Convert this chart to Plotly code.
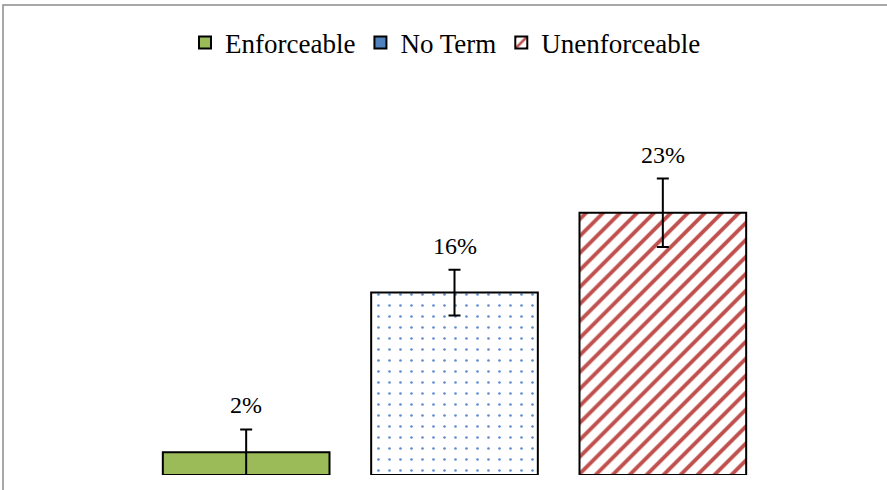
import plotly.graph_objects as go

categories = ["Enforceable", "No Term", "Unenforceable"]
values = [2, 16, 23]
errors = [2, 2, 3]
labels = ["2%", "16%", "23%"]

colors = ["#9BBB59", "#4F81BD", "#C0504D"]

W, H = 887, 490
ML, MR, MT, MB = 142, 120, 80, 15
PW, PH = W - ML - MR, H - MT - MB
YMAX = PH / 11.4

def px_to_paper_x(px):
    return (px - ML) / PW

def px_to_paper_y(py):
    return (H - MB - py) / PH

FONT = "Liberation Serif, Times New Roman, serif"

fig = go.Figure()

patterns = [
    dict(shape=""),
    dict(shape=".", bgcolor="white", fgcolor="#5E8DD0", size=11, solidity=0.045, fillmode="replace"),
    dict(shape="/", bgcolor="white", fgcolor="#C0504D", size=12, solidity=0.32, fillmode="replace"),
]

for i, cat in enumerate(categories):
    fig.add_trace(go.Bar(
        x=[cat], y=[values[i]], name=cat, width=0.8,
        marker=dict(color=colors[i] if i == 0 else "white",
                    line=dict(color="black", width=2),
                    pattern=patterns[i]),
        error_y=dict(type="data", array=[errors[i]], color="black", thickness=2, width=6),
        showlegend=False,
    ))
    # legend entries (solid swatches like the original legend)
    fig.add_trace(go.Bar(
        x=[None], y=[None], name=cat,
        marker=dict(color=colors[i] if i != 2 else "white",
                    line=dict(color="black", width=2),
                    pattern=patterns[2] if i == 2 else dict(shape="")),
        showlegend=True,
    ))

for i, cat in enumerate(categories):
    fig.add_annotation(x=cat, y=values[i] + errors[i], text=labels[i], showarrow=False,
                       yanchor="middle", yshift=24, font=dict(family=FONT, size=24, color="black"))

fig.add_shape(type="rect", xref="paper", yref="paper",
              x0=px_to_paper_x(3), x1=px_to_paper_x(W + 20),
              y0=px_to_paper_y(H + 20), y1=px_to_paper_y(5),
              line=dict(color="#8C8C8C", width=1.5), fillcolor="rgba(0,0,0,0)", layer="below")

fig.update_layout(
    width=W, height=H,
    margin=dict(l=ML, r=MR, t=MT, b=MB),
    paper_bgcolor="white", plot_bgcolor="white",
    barmode="overlay",
    xaxis=dict(range=[-0.5, 2.5], showticklabels=False, showgrid=False, zeroline=False,
               showline=False, ticks=""),
    yaxis=dict(range=[0, YMAX], showticklabels=False, showgrid=False, zeroline=False,
               showline=False, ticks=""),
    legend=dict(orientation="h", x=px_to_paper_x(185), xanchor="left",
                y=px_to_paper_y(43), yanchor="middle",
                font=dict(family=FONT, size=27, color="black"),
                bgcolor="rgba(0,0,0,0)", itemwidth=30),
    showlegend=True,
)

fig.write_html("out.html", config={"displayModeBar": False},
               post_script="document.body.style.margin='0';")
